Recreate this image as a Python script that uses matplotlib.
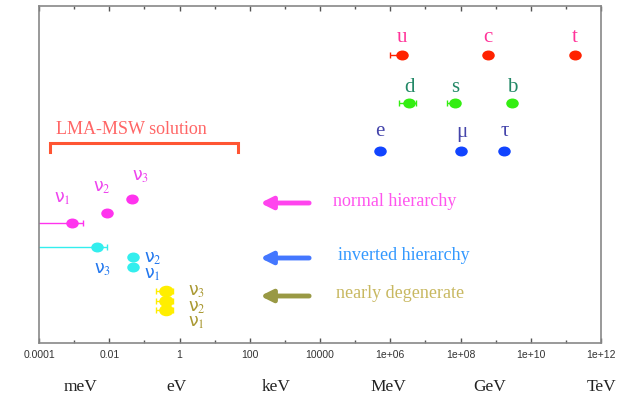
import numpy as np
import matplotlib
matplotlib.use("Agg")
import matplotlib.pyplot as plt
from matplotlib.path import Path
from matplotlib.markers import MarkerStyle
from matplotlib.transforms import Affine2D, blended_transform_factory

plt.rcParams['mathtext.fontset'] = 'stix'

# masses in eV
up_names = ['u', 'c', 't']
up_mass = [2.1e6, 6.2e8, 1.8e11]
up_lo = [1.0e6, 6.2e8, 1.8e11]
up_hi = [2.1e6, 6.2e8, 1.8e11]

down_names = ['d', 's', 'b']
down_mass = [3.5e6, 7.0e7, 3.0e9]
down_lo = [1.8e6, 4.0e7, 3.0e9]
down_hi = [5.5e6, 7.0e7, 3.0e9]

lepton_names = ['e', 'μ', 'τ']
lepton_mass = [5.11e5, 1.06e8, 1.78e9]

nu_names = ['ν$_1$', 'ν$_2$', 'ν$_3$']
normal_mass = [8.5e-4, 8.8e-3, 4.5e-2]
normal_lo = [1e-6, 8.8e-3, 4.5e-2]
normal_hi = [1.75e-3, 8.8e-3, 4.5e-2]

inverted_mass = [4.6e-2, 4.6e-2, 4.4e-3]
inverted_lo = [4.6e-2, 4.6e-2, 1e-6]
inverted_hi = [4.6e-2, 4.6e-2, 8.8e-3]

degenerate_mass = [0.41, 0.41, 0.41]
degenerate_lo = [0.22, 0.22, 0.22]
degenerate_hi = [0.65, 0.65, 0.65]

lma_range = [2e-4, 47]

tick_vals = [1e-4, 1e-2, 1, 1e2, 1e4, 1e6, 1e8, 1e10, 1e12]
tick_labels = ['0.0001', '0.01', '1', '100', '10000', '1e+06', '1e+08', '1e+10', '1e+12']
unit_names = ['meV', 'eV', 'keV', 'MeV', 'GeV', 'TeV']
unit_pos = [1.5e-3, 0.8, 5.6e2, 8.7e5, 6.9e8, 1.05e12]

# vertical layout (rows, top = small)
up_y = [55, 55, 55]
down_y = [103, 103, 103]
lepton_y = [151, 151, 151]
normal_y = [223, 213, 199]
inverted_y = [267, 257, 247]
degenerate_y = [310, 301, 291]

# slightly wide dots
oval = MarkerStyle(Path.unit_circle().transformed(Affine2D().scale(1.3, 1.0)))

fig = plt.figure(figsize=(6.28, 3.98), dpi=100)
ax = fig.add_axes([39/628, 1 - 343.3/398, 562/628, 337.3/398])
ax.set_xscale('log')
ax.set_xlim(1e-4, 1e12)
ax.set_ylim(343.3, 6)


def group(mass, lo, hi, ys, color, ms):
    mass = np.array(mass)
    err = [mass - np.array(lo), np.array(hi) - mass]
    ax.errorbar(mass, ys, xerr=err, fmt='none', ecolor=color, elinewidth=1,
                capsize=2, capthick=1, zorder=2)
    ax.plot(mass, ys, ls='none', marker=oval, ms=ms, color=color, zorder=3)


group(up_mass, up_lo, up_hi, up_y, '#ff2200', 8)
group(down_mass, down_lo, down_hi, down_y, '#33ee11', 8)
group(lepton_mass, lepton_mass, lepton_mass, lepton_y, '#1144ff', 8)
group(normal_mass, normal_lo, normal_hi, normal_y, '#ff33ee', 8)
group(inverted_mass, inverted_lo, inverted_hi, inverted_y, '#33eeee', 8)
group(degenerate_mass, degenerate_lo, degenerate_hi, degenerate_y, '#ffee00', 9.5)

serif = 'Liberation Serif'

for names, mass, ys, col, off in [(up_names, up_mass, up_y, '#ff3399', 18),
                                  (down_names, down_mass, down_y, '#228866', 16),
                                  (lepton_names, lepton_mass, lepton_y, '#4444aa', 19)]:
    for n, m, y in zip(names, mass, ys):
        ax.annotate(n, (m, y), xytext=(0, off), textcoords='offset pixels',
                    ha='center', va='center', fontsize=15, color=col, family=serif)

# neutrino labels, offsets in pixels
normal_off = [(-9, 25), (-5, 26), (8, 23)]
inverted_off = [(20, -7), (20, -1), (6, -22)]
degenerate_off = [(31, -12), (31, -6), (31, 0)]
for mass, ys, offs, col in [(normal_mass, normal_y, normal_off, '#ee44ee'),
                            (inverted_mass, inverted_y, inverted_off, '#2277ee'),
                            (degenerate_mass, degenerate_y, degenerate_off, '#aa9933')]:
    for n, m, y, o in zip(nu_names, mass, ys, offs):
        ax.annotate(n, (m, y), xytext=o, textcoords='offset pixels',
                    ha='center', va='center', fontsize=12.5, color=col)

# hierarchy arrows
arrows = [(203, '#ff44ee', 'normal hierarchy', '#ff55ee', 2.3e4),
          (258, '#4477ff', 'inverted hierarchy', '#3399ff', 3.2e4),
          (296, '#999944', 'nearly degenerate', '#c8b860', 2.85e4)]
for y, acol, txt, tcol, tx in arrows:
    ax.annotate('', xy=(2.0e2, y), xytext=(4.9e3, y),
                arrowprops=dict(arrowstyle='-|>,head_length=0.7,head_width=0.35',
                                lw=3.5, color=acol, shrinkA=0, shrinkB=0))
    ax.text(tx, y - 2, txt, color=tcol, fontsize=13, family=serif, va='center')

# LMA-MSW bracket
bx = [lma_range[0], lma_range[0], lma_range[1], lma_range[1]]
ax.plot(bx, [152, 143.3, 143.3, 152], color='#ff5533', lw=2.2, solid_joinstyle='miter')
ax.text(3.0e-4, 129, 'LMA-MSW solution', color='#ff6666', fontsize=13,
        family=serif, va='center')

# axes styling
for s in ax.spines.values():
    s.set_color('#888888')
    s.set_linewidth(1.2)
ax.set_yticks([])
ax.set_xticks(tick_vals)
ax.set_xticklabels(tick_labels, family='Liberation Sans')
ax.set_xticks([10.0**k for k in range(-3, 12, 2)], minor=True)
ax.xaxis.set_minor_formatter(plt.NullFormatter())
ax.tick_params(axis='x', which='both', direction='in', top=True, color='#555555',
               labelsize=7.5, labelcolor='#333333', pad=5)
ax.tick_params(axis='x', which='major', length=3.5, width=1)
ax.tick_params(axis='x', which='minor', length=2, width=1)

trans = blended_transform_factory(ax.transData, ax.transAxes)
for n, x in zip(unit_names, unit_pos):
    ax.text(x, -0.13, n, transform=trans, ha='center', va='center',
            fontsize=12.5, family=serif, color='#222222')

fig.savefig('out.png', dpi=100)
